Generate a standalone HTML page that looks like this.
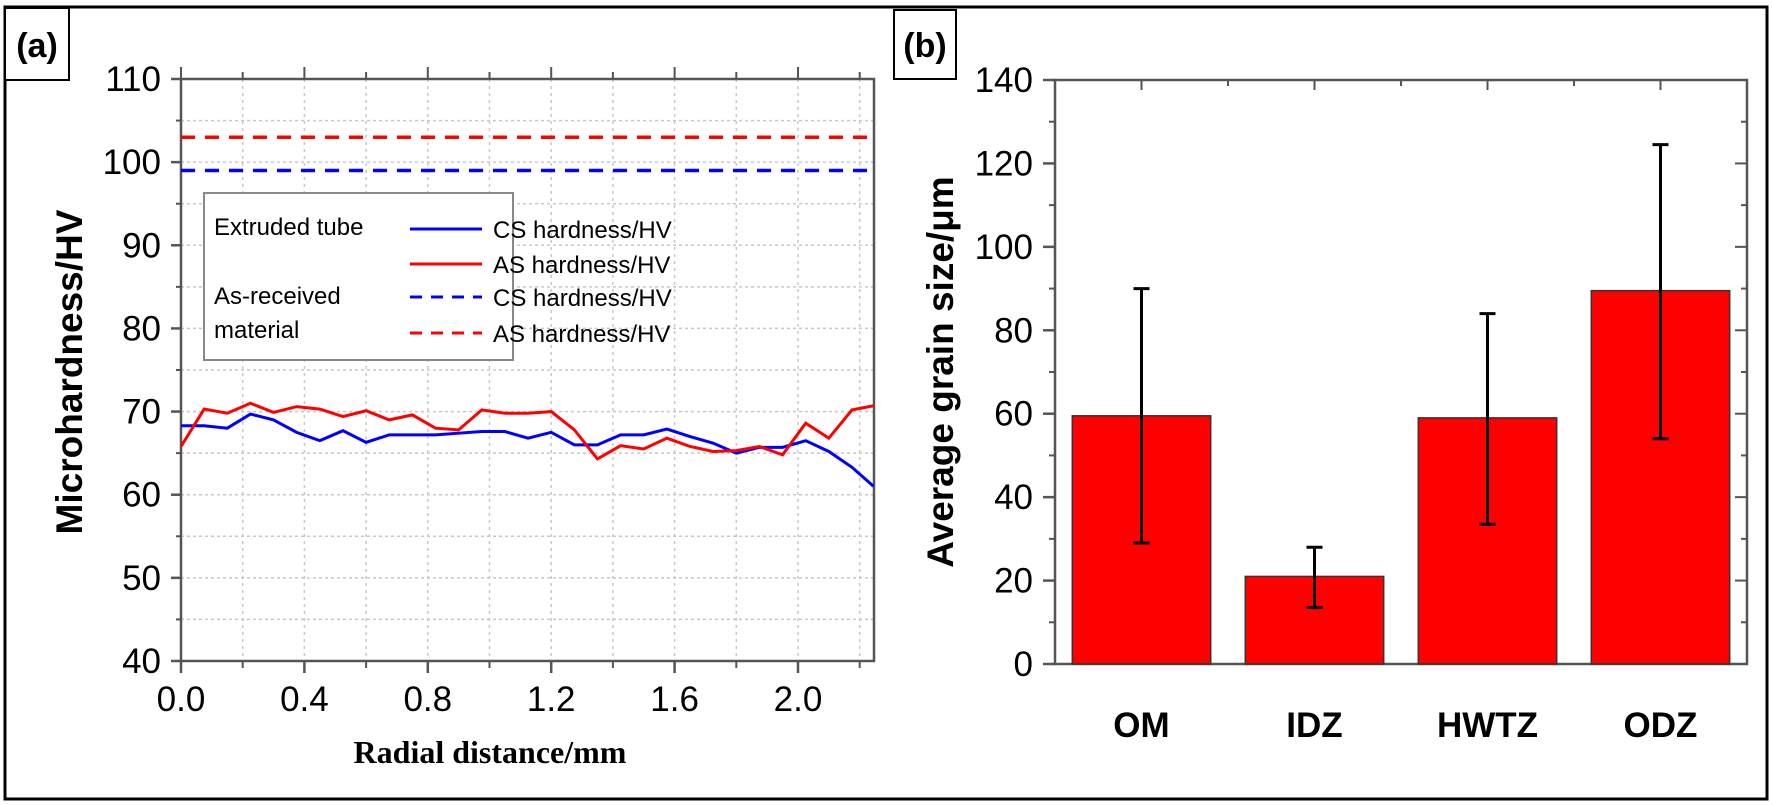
<!DOCTYPE html>
<html><head><meta charset="utf-8"><style>
html,body{margin:0;padding:0;background:#fff;}
svg{display:block;}
text{font-family:"Liberation Sans",sans-serif;}
</style></head><body>
<svg id="root" width="1772" height="805" viewBox="0 0 1772 805" xmlns="http://www.w3.org/2000/svg">
<rect x="5" y="7" width="1762" height="792" fill="none" stroke="#000" stroke-width="3"/>
<g><rect x="5" y="8" width="64" height="72" fill="#fff" stroke="#000" stroke-width="2"/><text x="37" y="57" font-size="34" font-weight="bold" text-anchor="middle">(a)</text></g>
<g><rect x="894" y="10" width="62" height="69" fill="#fff" stroke="#000" stroke-width="2"/><text x="925" y="57" font-size="34" font-weight="bold" text-anchor="middle">(b)</text></g>
<g id="chartA"></g>
<g id="chartB"></g>
</svg>
<script>
// ---- Chart A data ----
const xsA = [0,0.075,0.15,0.225,0.3,0.375,0.45,0.525,0.6,0.675,0.75,0.825,0.9,0.975,1.05,1.125,1.2,1.275,1.35,1.425,1.5,1.575,1.65,1.725,1.8,1.875,1.95,2.025,2.1,2.175,2.245];
const csHard = [68.3,68.3,68.0,69.7,69.0,67.5,66.5,67.7,66.3,67.2,67.2,67.2,67.4,67.6,67.6,66.8,67.5,66.0,66.0,67.2,67.2,67.9,67.0,66.2,65.0,65.7,65.7,66.5,65.2,63.3,61.0];
const asHard = [65.8,70.3,69.8,71.0,69.9,70.6,70.3,69.4,70.1,69.0,69.6,68.0,67.8,70.2,69.8,69.8,70.0,67.8,64.3,65.9,65.5,66.8,65.8,65.2,65.3,65.8,64.8,68.6,66.8,70.2,70.7];
const csRecv = 99;
const asRecv = 103;
const yTicksA = [40,50,60,70,80,90,100,110];
const xTicksA = ["0.0","0.4","0.8","1.2","1.6","2.0"];
// ---- Chart B data ----
const cats = ["OM","IDZ","HWTZ","ODZ"];
const grain = [59.5,21,59,89.5];
const errLo = [29,13.5,33.5,54];
const errHi = [90,28,84,124.5];
const yTicksB = [0,20,40,60,80,100,120,140];

const NS="http://www.w3.org/2000/svg";
function mk(parent,tag,attrs,txt){const e=document.createElementNS(NS,tag);for(const k in attrs)e.setAttribute(k,attrs[k]);if(txt!==undefined)e.textContent=txt;parent.appendChild(e);return e;}

// Chart A
const A=document.getElementById('chartA');
const ax0=181, ax1=874, ay0=661, ay1=79;
const xA=v=>ax0+v*(798-181)/2.0;
const yA=v=>ay0-(v-40)*(ay0-ay1)/70;
for(let v=0.2;v<2.25;v+=0.2){const l=mk(A,'line',{x1:xA(v),x2:xA(v),y1:ay1,y2:ay0,stroke:'#c8c8c8','stroke-width':1.5,'stroke-dasharray':'3,4'});

}
for(let v=45;v<110;v+=5){const l=mk(A,'line',{x1:ax0,x2:ax1,y1:yA(v),y2:yA(v),stroke:'#c8c8c8','stroke-width':1.5,'stroke-dasharray':'3,3'});

}
const fA=mk(A,'rect',{x:ax0,y:ay1,width:ax1-ax0,height:ay0-ay1,fill:'none',stroke:'#555','stroke-width':2.5});


yTicksA.forEach(v=>{mk(A,'line',{x1:ax0-10,x2:ax0,y1:yA(v),y2:yA(v),stroke:'#555','stroke-width':2.5});
const t=mk(A,'text',{x:ax0-20,y:yA(v)+12,'font-size':35,'text-anchor':'end'},v);

});
for(let v=45;v<110;v+=10){mk(A,'line',{x1:ax0-5,x2:ax0,y1:yA(v),y2:yA(v),stroke:'#555','stroke-width':2});}
xTicksA.forEach(s=>{const v=parseFloat(s);mk(A,'line',{x1:xA(v),x2:xA(v),y1:ay0,y2:ay0+12,stroke:'#555','stroke-width':2.5});mk(A,'line',{x1:xA(v),x2:xA(v),y1:ay1,y2:ay1-12,stroke:'#555','stroke-width':2});
const t=mk(A,'text',{x:xA(v),y:ay0+50,'font-size':35,'text-anchor':'middle'},s);

});
for(let v=0.2;v<2.25;v+=0.4){mk(A,'line',{x1:xA(v),x2:xA(v),y1:ay0,y2:ay0+7,stroke:'#555','stroke-width':2});mk(A,'line',{x1:xA(v),x2:xA(v),y1:ay1,y2:ay1-7,stroke:'#555','stroke-width':2});}
const dR=mk(A,'line',{x1:ax0,x2:ax1,y1:yA(asRecv),y2:yA(asRecv),stroke:'#f00','stroke-width':3.5,'stroke-dasharray':'14,10'});


const dB=mk(A,'line',{x1:ax0,x2:ax1,y1:yA(csRecv),y2:yA(csRecv),stroke:'#00f','stroke-width':3.5,'stroke-dasharray':'14,10'});


const pb=mk(A,'polyline',{points:xsA.map((x,i)=>xA(x)+','+yA(csHard[i])).join(' '),fill:'none',stroke:'#00f','stroke-width':3});


const pr=mk(A,'polyline',{points:xsA.map((x,i)=>xA(x)+','+yA(asHard[i])).join(' '),fill:'none',stroke:'#f00','stroke-width':3});


// legend
const lg=mk(A,'g',{});


mk(lg,'rect',{x:204,y:193,width:309,height:167,fill:'#fff',stroke:'#888','stroke-width':2});
mk(lg,'text',{x:214,y:235,'font-size':24},'Extruded tube');
mk(lg,'text',{x:214,y:304,'font-size':24},'As-received');
mk(lg,'text',{x:214,y:338,'font-size':24},'material');
[[229,'#00f','','CS hardness/HV'],[264,'#f00','','AS hardness/HV'],[297,'#00f','12,9','CS hardness/HV'],[333,'#f00','12,9','AS hardness/HV']].forEach(r=>{
mk(lg,'line',{x1:410,x2:482,y1:r[0],y2:r[0],stroke:r[1],'stroke-width':3,'stroke-dasharray':r[2]||'none'});
const t=mk(lg,'text',{x:493,y:r[0]+9,'font-size':24},r[3]);

});
const ta=mk(A,'text',{x:0,y:0,'font-size':37,'font-weight':'bold','text-anchor':'middle',transform:'translate(82,372) rotate(-90)'},'Microhardness/HV');


const tx=mk(A,'text',{x:490,y:763,'font-size':32,'font-weight':'bold','text-anchor':'middle',style:'font-family:"Liberation Serif",serif'},'Radial distance/mm');



// Chart B
const B=document.getElementById('chartB');
const bx0=1055,bx1=1747,by0=664,by1=80;
const band=(bx1-bx0)/cats.length;
const xB=i=>bx0+band*(i+0.5);
const yB=v=>by0-v*(by0-by1)/140;
const fB=mk(B,'rect',{x:bx0,y:by1,width:bx1-bx0,height:by0-by1,fill:'none',stroke:'#555','stroke-width':2.5});


yTicksB.forEach(v=>{mk(B,'line',{x1:bx0-12,x2:bx0,y1:yB(v),y2:yB(v),stroke:'#555','stroke-width':2.5});mk(B,'line',{x1:bx1-12,x2:bx1,y1:yB(v),y2:yB(v),stroke:'#555','stroke-width':2});
const t=mk(B,'text',{x:bx0-22,y:yB(v)+12,'font-size':35,'text-anchor':'end'},v);

});
for(let v=10;v<140;v+=20){mk(B,'line',{x1:bx0-6,x2:bx0,y1:yB(v),y2:yB(v),stroke:'#555','stroke-width':2});mk(B,'line',{x1:bx1-6,x2:bx1,y1:yB(v),y2:yB(v),stroke:'#555','stroke-width':2});}
for(let i=0;i<=cats.length*2;i++){const x=bx0+band*i/2;mk(B,'line',{x1:x,x2:x,y1:by1,y2:by1+(i%2?10:6),stroke:'#555','stroke-width':2});}
cats.forEach((c,i)=>{const w=band*0.8;
const r=mk(B,'rect',{x:xB(i)-w/2,y:yB(grain[i]),width:w,height:yB(0)-yB(grain[i]),fill:'#f00',stroke:'#333','stroke-width':1.5});


const e=mk(B,'path',{d:`M${xB(i)},${yB(errLo[i])}V${yB(errHi[i])}M${xB(i)-8},${yB(errLo[i])}h16M${xB(i)-8},${yB(errHi[i])}h16`,stroke:'#000','stroke-width':3,fill:'none'});


const t=mk(B,'text',{x:xB(i),y:737,'font-size':35,'font-weight':'bold','text-anchor':'middle'},c);

});
const tb=mk(B,'text',{x:0,y:0,'font-size':37,'font-weight':'bold','text-anchor':'middle',transform:'translate(953,372) rotate(-90)'},'Average grain size/μm');


</script>
</body></html>
